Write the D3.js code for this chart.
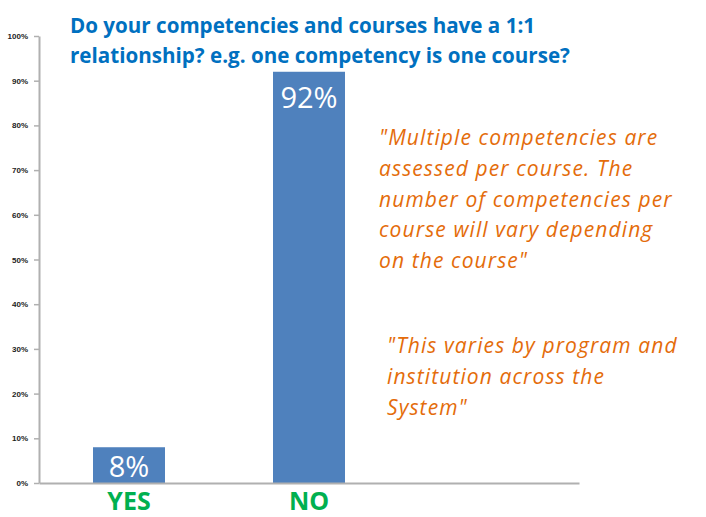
<!DOCTYPE html>
<html>
<head>
<meta charset="utf-8">
<script src="https://cdn.jsdelivr.net/npm/d3@7"></script>
<style>
  body { margin: 0; background: #fff; }
  svg { display: block; }
</style>
</head>
<body>
<svg id="chart"></svg>
<script>
// chart data
const categories = ["YES", "NO", ""];   // third slot is empty in the original
const values = [0.08, 0.92, null];
const valueLabels = ["8%", "92%", ""];
const yTicks = [0, 0.1, 0.2, 0.3, 0.4, 0.5, 0.6, 0.7, 0.8, 0.9, 1.0];
const titleLines = [
    "Do your competencies and courses have a 1:1",
    "relationship? e.g. one competency is one course?"
];
const quoteOne = [
    "\"Multiple competencies are",
    "assessed per course. The",
    "number of competencies per",
    "course will vary depending",
    "on the course\""
];
const quoteTwo = [
    "\"This varies by program and",
    "institution across the",
    "System\""
];

document.addEventListener("DOMContentLoaded", function () {
    const width = 706, height = 517;
    const margin = { top: 36, right: 127, bottom: 34, left: 39 };
    const chartWidth = width - margin.left - margin.right;
    const chartHeight = height - margin.top - margin.bottom;

    const svg = d3.select("#chart")
        .attr("width", width)
        .attr("height", height);

    const xScale = d3.scaleBand()
        .domain(categories)
        .range([0, chartWidth])
        .paddingInner(0.6)
        .paddingOuter(0.3);

    const yScale = d3.scaleLinear()
        .domain([0, 1])
        .range([chartHeight, 0]);

    const g = svg.append("g")
        .attr("transform", `translate(${margin.left},${margin.top})`);

    // bars
    const bars = categories.map((c, i) => ({ c, v: values[i], label: valueLabels[i] }))
        .filter(d => d.v != null);

    g.selectAll("rect.bar")
        .data(bars)
        .enter()
        .append("rect")
        .attr("class", "bar")
        .attr("x", d => xScale(d.c))
        .attr("y", d => yScale(d.v))
        .attr("width", xScale.bandwidth())
        .attr("height", d => chartHeight - yScale(d.v))
        .attr("fill", "#4f81bd");

    // value labels inside the bar ends
    g.selectAll("text.val")
        .data(bars)
        .enter()
        .append("text")
        .attr("class", "val")
        .attr("x", d => xScale(d.c) + xScale.bandwidth() / 2)
        .attr("y", d => Math.min(yScale(d.v) + 36, chartHeight - 6))
        .attr("text-anchor", "middle")
        .attr("fill", "#fff")
        .style("font-family", "'Open Sans', sans-serif")
        .style("font-size", "29px")
        .text(d => d.label);

    // y axis
    const yAxis = g.append("g")
        .call(d3.axisLeft(yScale)
            .tickValues(yTicks)
            .tickFormat(d3.format(".0%"))
            .tickSize(5)
            .tickSizeOuter(0)
            .tickPadding(6));
    yAxis.select(".domain").attr("stroke", "#b0b0b0").attr("stroke-width", 2);
    yAxis.selectAll(".tick line").attr("stroke", "#b0b0b0").attr("stroke-width", 1.5);
    yAxis.selectAll(".tick text")
        .attr("fill", "#222")
        .style("font-family", "'Liberation Sans', Arial, sans-serif")
        .style("font-weight", "bold")
        .style("font-size", "8px");

    // x axis
    const xAxis = g.append("g")
        .attr("transform", `translate(0,${chartHeight})`)
        .call(d3.axisBottom(xScale).tickSize(0).tickSizeOuter(0).tickPadding(6));
    xAxis.select(".domain").attr("stroke", "#b0b0b0").attr("stroke-width", 2);
    xAxis.selectAll(".tick text")
        .attr("fill", "#00b050")
        .attr("dy", "0.85em")
        .style("font-family", "'Open Sans', sans-serif")
        .style("font-weight", "bold")
        .style("font-size", "25px");

    // title
    svg.append("text")
        .attr("x", 70)
        .attr("y", 33)
        .attr("fill", "#0070c0")
        .style("font-family", "'Open Sans', sans-serif")
        .style("font-weight", "bold")
        .style("font-size", "20.6px")
        .selectAll("tspan")
        .data(titleLines)
        .enter()
        .append("tspan")
        .attr("x", 70)
        .attr("dy", (d, i) => i === 0 ? 0 : 30)
        .text(d => d);

    // quotes
    function quote(lines, x, y) {
        svg.append("text")
            .attr("x", x)
            .attr("y", y)
            .attr("fill", "#e46c0a")
            .style("font-family", "'Open Sans', sans-serif")
            .style("font-style", "italic")
            .style("font-size", "21px")
            .style("letter-spacing", "1.1px")
            .selectAll("tspan")
            .data(lines)
            .enter()
            .append("tspan")
            .attr("x", x)
            .attr("dy", (d, i) => i === 0 ? 0 : 30.8)
            .text(d => d);
    }
    quote(quoteOne, 379, 145);
    quote(quoteTwo, 387, 353);
});
</script>
</body>
</html>
